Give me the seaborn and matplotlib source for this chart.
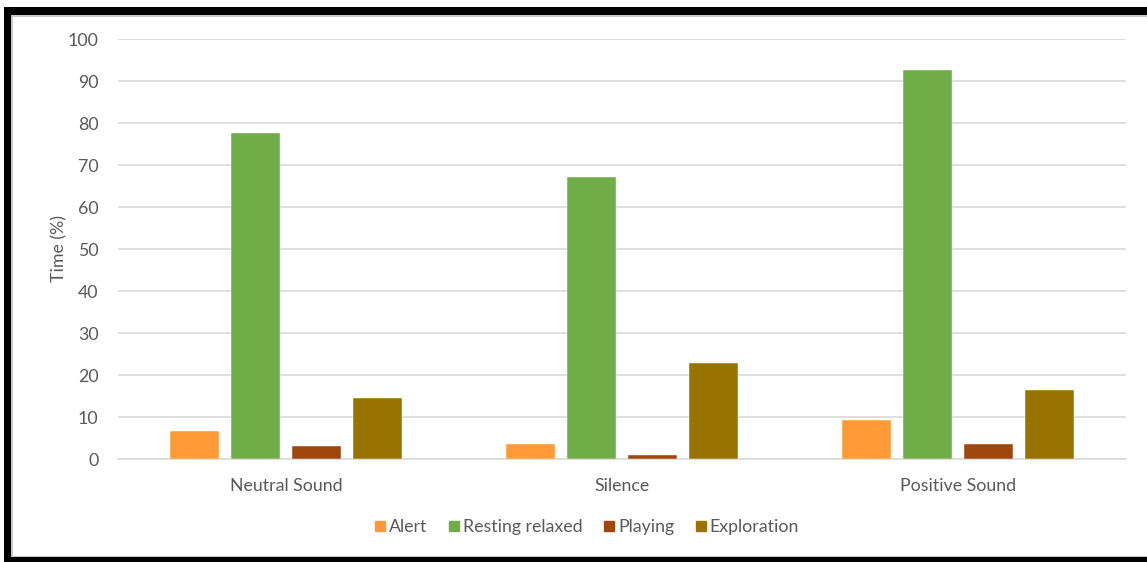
import matplotlib
matplotlib.use("Agg")
import matplotlib.pyplot as plt
import seaborn as sns
import pandas as pd
from matplotlib.patches import Rectangle
from matplotlib.lines import Line2D

conditions = ["Neutral Sound", "Silence", "Positive Sound"]
behaviours = ["Alert", "Resting relaxed", "Playing", "Exploration"]
alert = [6.7, 3.6, 9.3]
resting = [77.6, 67.1, 92.6]
playing = [3.1, 1.0, 3.6]
exploration = [14.5, 22.9, 16.4]
colors = ["#FF9A36", "#70AD47", "#9E480E", "#997300"]

rows = []
for name, vals in zip(behaviours, [alert, resting, playing, exploration]):
    for cond, v in zip(conditions, vals):
        rows.append({"Condition": cond, "Behaviour": name, "Time": v})
df = pd.DataFrame(rows)

sns.set_theme(style="white")
plt.rcParams["font.family"] = ["Lato", "DejaVu Sans"]
text_color = "#595959"
fs = 12.8

W, H = 1147, 562
fig = plt.figure(figsize=(W / 100, H / 100), dpi=100)
ax = fig.add_axes([118 / W, 1 - 459 / H, 1008 / W, 420 / H])

sns.barplot(data=df, x="Condition", y="Time", hue="Behaviour",
            order=conditions, hue_order=behaviours, palette=colors,
            saturation=1, width=0.726, gap=0.2, ax=ax, legend=False,
            edgecolor="white", linewidth=0.3, zorder=3)

ax.set_ylim(0, 100)
ax.set_xlim(-0.5, 2.5)
ax.set_yticks(range(0, 101, 10))
ax.grid(axis="y", color="#d9d9d9", linewidth=1.2, zorder=0)
ax.set_axisbelow(True)
for s in ["top", "right", "left"]:
    ax.spines[s].set_visible(False)
ax.spines["bottom"].set_color("#d9d9d9")
ax.spines["bottom"].set_linewidth(1.2)
ax.tick_params(axis="both", length=0, labelsize=fs, colors=text_color)
ax.tick_params(axis="y", pad=14)
ax.tick_params(axis="x", pad=14)
ax.set_xlabel("")
ax.set_ylabel("Time (%)", fontsize=fs, color=text_color, labelpad=0)

handles = [Line2D([0], [0], marker="s", linestyle="none", markersize=7.5,
                  markerfacecolor=c, markeredgecolor=c) for c in colors]
fig.legend(handles, behaviours, loc="center", bbox_to_anchor=(0.51, 1 - 527 / H),
           ncol=4, frameon=False, fontsize=fs, labelcolor=text_color,
           handletextpad=0.0, columnspacing=1.0, handlelength=1.0)


def band(x0, y0, x1, y1, color):
    # rectangle given in pixel coordinates measured from the top-left corner
    fig.add_artist(Rectangle((x0 / W, 1 - y1 / H), (x1 - x0) / W, (y1 - y0) / H,
                             transform=fig.transFigure, facecolor=color,
                             edgecolor="none", zorder=10))


# outer frame: thin grey inner line, thick black outer band
band(11, 15, W, 16.5, "#c8c8c8")
band(11, 15, 12.5, 557, "#c8c8c8")
band(11, 555.5, W, 557, "#c8c8c8")
band(4, 7, W, 15, "black")
band(4, 7, 11, H, "black")
band(4, 557, W, H, "black")

fig.savefig("out.png", dpi=100)
